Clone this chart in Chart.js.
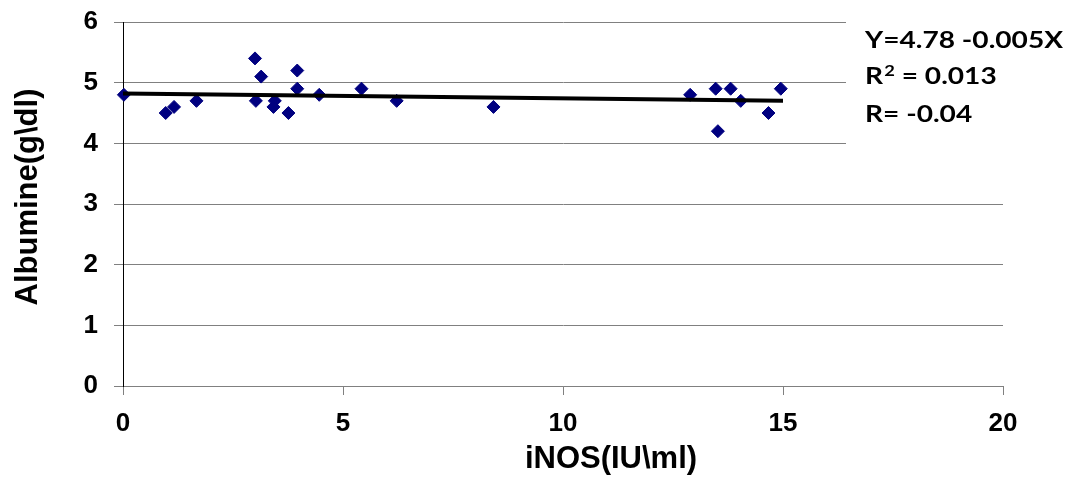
<!DOCTYPE html>
<html>
<head>
<meta charset="utf-8">
<script src="https://cdn.jsdelivr.net/npm/chart.js@4"></script>
<style>
  html, body { margin: 0; padding: 0; background: #fff; }
  #wrap { width: 1068px; height: 477px; }
</style>
</head>
<body>
<div id="wrap"><canvas id="albChart" width="1068" height="477"></canvas></div>
<script>
// values
const iNOS = [0.02, 0.97, 1.16, 1.67, 3.0, 3.14, 3.02, 3.45, 3.42, 3.76, 3.96, 3.96, 4.46, 5.42, 6.22, 8.42, 12.89, 13.47, 13.81, 13.52, 14.04, 14.67, 14.95];
const albumin = [4.8, 4.5, 4.6, 4.7, 5.4, 5.1, 4.7, 4.7, 4.6, 4.5, 5.2, 4.9, 4.8, 4.9, 4.7, 4.6, 4.8, 4.9, 4.9, 4.2, 4.7, 4.5, 4.9];
const trendX = [0, 15];
const trendY = [4.82, 4.70];
const xTitle = 'iNOS(IU\\ml)';
const yTitle = 'Albumine(g\\dl)';
const eqLines = ['Y=4.78 -0.005X', 'R2 = 0.013', 'R= -0.04'];

const tickFont = { family: '"Liberation Sans", Arial, sans-serif', size: 26, weight: 'bold' };

// axis titles + equation box, drawn by hand so they sit where Excel put them
const annotations = {
  id: 'annotations',
  afterDraw(chart) {
    const ctx = chart.ctx;
    ctx.save();

    // white box hides the top gridlines behind the equation
    ctx.fillStyle = '#fff';
    ctx.fillRect(846, 10, 222, 140);

    ctx.fillStyle = '#000';
    ctx.font = 'bold 31px "Liberation Sans", Arial, sans-serif';
    ctx.textAlign = 'center';
    ctx.textBaseline = 'middle';
    ctx.fillText(xTitle, 611, 459);

    ctx.save();
    ctx.translate(28, 197);
    ctx.rotate(-Math.PI / 2);
    ctx.fillText(yTitle, 0, 0);
    ctx.restore();

    // equation text, stretched to the width it has in the picture
    const big = 'bold 23px Lato, "Liberation Sans", sans-serif';
    const small = 'bold 15px Lato, "Liberation Sans", sans-serif';
    ctx.font = big;
    const sx = 198 / ctx.measureText(eqLines[0]).width;
    ctx.save();
    ctx.translate(865, 0);
    ctx.scale(sx, 1);
    ctx.textAlign = 'left';
    ctx.textBaseline = 'alphabetic';
    const baselines = [48, 84, 122];
    ctx.fillText(eqLines[0], 0, baselines[0]);
    // R squared with a raised 2
    ctx.fillText('R', 0, baselines[1]);
    let w = ctx.measureText('R').width + 1;
    ctx.font = small;
    ctx.fillText('2', w, baselines[1] - 8);
    w += ctx.measureText('2').width;
    ctx.font = big;
    ctx.fillText(eqLines[1].slice(2), w, baselines[1]);
    ctx.fillText(eqLines[2], 0, baselines[2]);
    ctx.restore();

    ctx.restore();
  },
};

const draw = () => {
  const ctx = document.getElementById('albChart').getContext('2d');
  new Chart(ctx, {
    type: 'scatter',
    data: {
      datasets: [
        {
          type: 'line',
          label: 'trend',
          data: trendX.map((x, i) => ({ x, y: trendY[i] })),
          borderColor: '#000',
          borderWidth: 4,
          pointRadius: 0,
          fill: false,
          order: 0,
        },
        {
          label: 'Albumine',
          data: iNOS.map((x, i) => ({ x, y: albumin[i] })),
          pointStyle: 'rectRot',
          pointRadius: 6.5,
          pointBackgroundColor: '#000080',
          pointBorderColor: '#000080',
          pointBorderWidth: 1,
          clip: false,
          order: 1,
        },
      ],
    },
    options: {
      responsive: false,
      animation: false,
      layout: { padding: { top: 22, right: 65, left: 0, bottom: 0 } },
      plugins: {
        legend: { display: false },
        tooltip: { enabled: false },
      },
      scales: {
        x: {
          type: 'linear',
          min: 0,
          max: 20,
          afterFit: (s) => { s.height = 91; s.paddingLeft = 0; s.paddingRight = 0; },
          ticks: { stepSize: 5, font: tickFont, color: '#000', padding: 13, maxRotation: 0 },
          grid: { drawOnChartArea: false, drawTicks: true, tickLength: 9, color: '#808080', lineWidth: 1 },
          border: { color: '#808080', width: 1 },
        },
        y: {
          min: 0,
          max: 6,
          afterFit: (s) => { s.width = 123; s.paddingTop = 0; s.paddingBottom = 0; },
          ticks: { stepSize: 1, font: tickFont, color: '#000', padding: 16 },
          grid: { color: '#808080', lineWidth: 1, tickLength: 9 },
          border: { color: '#000', width: 1 },
        },
      },
    },
    plugins: [annotations],
  });
};

// make sure the local fonts are ready before measuring text
Promise.all([
  document.fonts.load('bold 23px Lato'),
  document.fonts.load('bold 26px "Liberation Sans"'),
]).then(draw, draw);
</script>
</body>
</html>
